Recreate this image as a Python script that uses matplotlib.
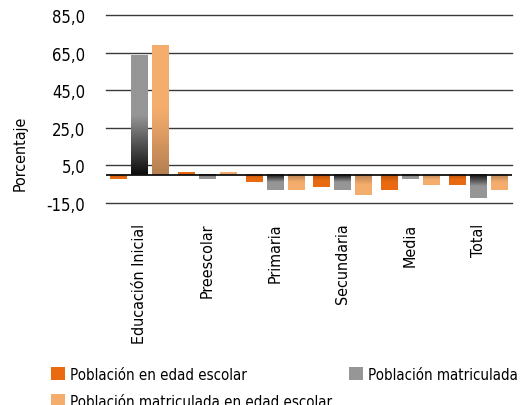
import numpy as np
import matplotlib
matplotlib.use("Agg")
import matplotlib.pyplot as plt
from matplotlib.colors import LinearSegmentedColormap
from matplotlib.patches import Patch

categories = ["Educación Inicial", "Preescolar", "Primaria", "Secundaria", "Media", "Total"]
edad_escolar = [-2.0, 1.2, -3.8, -6.5, -8.0, -5.4]
matriculada = [63.6, -2.4, -8.0, -8.0, -2.2, -12.3]
matric_edad = [68.9, 1.2, -8.0, -10.7, -5.4, -8.0]
yticks = [-15, 5, 25, 45, 65, 85]

series = [
    ("Población en edad escolar", edad_escolar, "#E96A10", "#B44E0A"),
    ("Población matriculada", matriculada, "#969696", "#0c0c0c"),
    ("Población matriculada en edad escolar", matric_edad, "#F4AD6D", "#B57F50"),
]

plt.rcParams["font.family"] = ["DejaVu Sans"]
plt.rcParams["font.stretch"] = "condensed"
FS = 11.5

fig = plt.figure(figsize=(5.21, 4.06), dpi=100)
ax = fig.add_axes([0.2035, 0.4975, 0.7795, 0.4631])

width = 0.25
step = 0.31
x = np.arange(len(categories))
grad = np.linspace(0, 1, 200).reshape(-1, 1)
for i, (name, vals, light, dark) in enumerate(series):
    # dark near the zero line, flat colour over the outer half of the bar
    cmap = LinearSegmentedColormap.from_list(name, [(0, dark), (0.5, light), (1, light)])
    for xi, v in zip(x, vals):
        left = xi + (i - 1) * step - width / 2
        g = grad if v >= 0 else grad[::-1]
        ax.imshow(g, cmap=cmap, aspect="auto", origin="lower", vmin=0, vmax=1,
                  extent=(left, left + width, min(0, v), max(0, v)), zorder=3)

ax.set_xlim(-0.5, len(categories) - 0.5)
ax.set_ylim(-15, 85)
for t in yticks:
    ax.axhline(t, color="#3a3a3a", linewidth=1.0, zorder=1, clip_on=False)
ax.axhline(0, color="#111111", linewidth=1.3, zorder=4)
ax.set_yticks(yticks)
ax.set_yticklabels([f"{t:.1f}".replace(".", ",") for t in yticks], fontsize=FS + 0.5)
ax.tick_params(axis="y", length=0, pad=15)
ax.tick_params(axis="x", length=0, pad=14)
ax.set_xticks(x)
ax.set_xticklabels(categories, rotation=90, fontsize=FS, va="top")
for s in ax.spines.values():
    s.set_visible(False)
ax.set_ylabel("Porcentaje", fontsize=FS)
ax.yaxis.set_label_coords(-0.192, 0.27)

handles = [Patch(facecolor=s[2], edgecolor="none") for s in series]
labels = [s[0] for s in series]
leg_kw = dict(loc="upper left", frameon=False, fontsize=10.8, handlelength=0.95,
              handleheight=0.95, handletextpad=0.35, labelspacing=0.8, borderpad=0)
fig.legend([handles[0], handles[2]], [labels[0], labels[2]],
           bbox_to_anchor=(0.083, 0.113), **leg_kw)
fig.legend([handles[1]], [labels[1]], bbox_to_anchor=(0.655, 0.113), **leg_kw)

fig.savefig("out.png", dpi=100)
